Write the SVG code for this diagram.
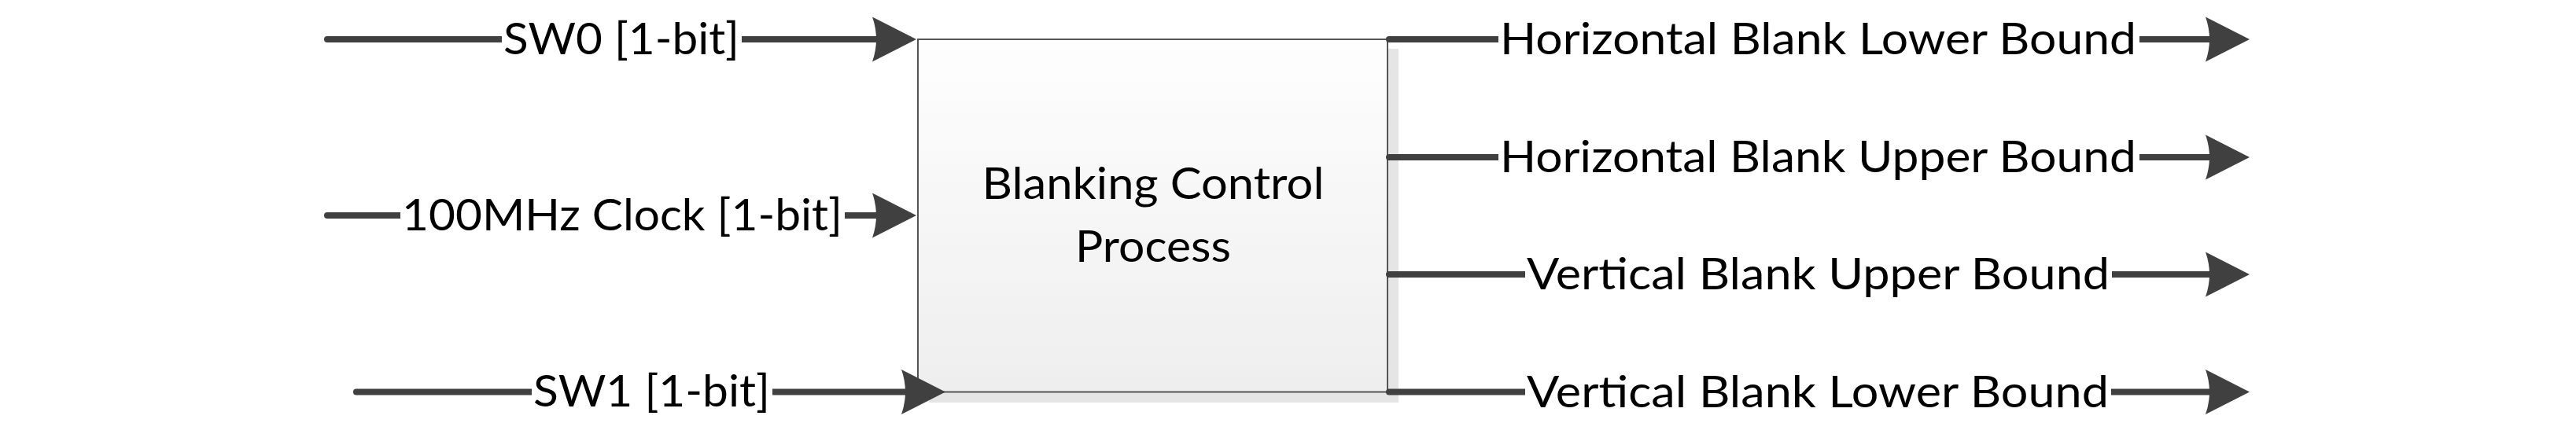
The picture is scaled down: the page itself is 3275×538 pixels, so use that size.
<svg xmlns="http://www.w3.org/2000/svg" width="3275" height="538" viewBox="0 0 3275 538">
  <style>
    .wire { stroke: #404040; stroke-width: 8; stroke-linecap: round; fill: none; }
    .lbl { font-family: Lato, "Open Sans", "Liberation Sans", sans-serif; font-size: 57px; fill: #000; text-anchor: middle; }
    .bg { fill: #ffffff; }
  </style>
  <defs>
    <marker id="ah" markerUnits="userSpaceOnUse" orient="auto" refX="-40" refY="0" markerWidth="60" markerHeight="60" viewBox="-60 -30 60 60" overflow="visible">
      <path d="M0,0 L-56,-28.5 Q-46,0 -56,28.5 Z" fill="#404040"/>
    </marker>
    <linearGradient id="boxfill" x1="0" y1="0" x2="0" y2="1">
      <stop offset="0" stop-color="#fefefe"/>
      <stop offset="1" stop-color="#eeeeee"/>
    </linearGradient>
  </defs>

  <g id="blanking-control-process">
    <rect x="1181" y="62" width="597" height="450" fill="#e5e5e5"/>
    <rect x="1167" y="50" width="597" height="448.5" fill="url(#boxfill)" stroke="#555555" stroke-width="2"/>
    <text class="lbl" x="1466" y="253" textLength="435" lengthAdjust="spacingAndGlyphs">Blanking Control</text>
    <text class="lbl" x="1466" y="333" textLength="198" lengthAdjust="spacingAndGlyphs">Process</text>
  </g>

  <g id="connectors">
    <g id="in-sw0">
      <line class="wire" x1="416" y1="50" x2="1125" y2="50" marker-end="url(#ah)"/>
      <rect class="bg" x="638" y="38" width="305" height="24"/>
      <text class="lbl" x="790" y="69" textLength="300" lengthAdjust="spacingAndGlyphs">SW0 [1-bit]</text>
    </g>
    <g id="in-clock">
      <line class="wire" x1="416" y1="274" x2="1125" y2="274" marker-end="url(#ah)"/>
      <rect class="bg" x="509" y="262" width="565" height="24"/>
      <text class="lbl" x="791" y="293" textLength="560" lengthAdjust="spacingAndGlyphs">100MHz Clock [1-bit]</text>
    </g>
    <g id="in-sw1">
      <line class="wire" x1="453" y1="498.5" x2="1162" y2="498.5" marker-end="url(#ah)"/>
      <rect class="bg" x="676" y="486" width="306" height="24"/>
      <text class="lbl" x="828.5" y="517" textLength="301" lengthAdjust="spacingAndGlyphs">SW1 [1-bit]</text>
    </g>
    <g id="out-hblank-lower">
      <line class="wire" x1="1766" y1="50" x2="2820" y2="50" marker-end="url(#ah)"/>
      <rect class="bg" x="1905" y="38" width="815" height="24"/>
      <text class="lbl" x="2311.5" y="69" textLength="809" lengthAdjust="spacingAndGlyphs">Horizontal Blank Lower Bound</text>
    </g>
    <g id="out-hblank-upper">
      <line class="wire" x1="1766" y1="200" x2="2820" y2="200" marker-end="url(#ah)"/>
      <rect class="bg" x="1905" y="188" width="815" height="24"/>
      <text class="lbl" x="2311.5" y="219" textLength="809" lengthAdjust="spacingAndGlyphs">Horizontal Blank Upper Bound</text>
    </g>
    <g id="out-vblank-upper">
      <line class="wire" x1="1766" y1="349" x2="2820" y2="349" marker-end="url(#ah)"/>
      <rect class="bg" x="1939" y="337" width="746" height="24"/>
      <text class="lbl" x="2311.5" y="368" textLength="741" lengthAdjust="spacingAndGlyphs">Vertical Blank Upper Bound</text>
    </g>
    <g id="out-vblank-lower">
      <line class="wire" x1="1766" y1="498.5" x2="2820" y2="498.5" marker-end="url(#ah)"/>
      <rect class="bg" x="1939" y="486" width="745" height="24"/>
      <text class="lbl" x="2311" y="518" textLength="740" lengthAdjust="spacingAndGlyphs">Vertical Blank Lower Bound</text>
    </g>
  </g>
</svg>
